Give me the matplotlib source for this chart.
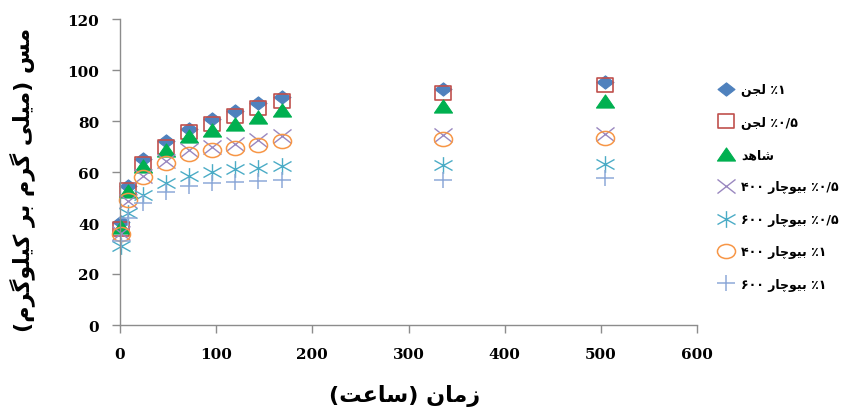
import matplotlib
matplotlib.use("Agg")
import matplotlib.pyplot as plt
from matplotlib.path import Path
from matplotlib.transforms import Affine2D

plt.rcParams['font.family'] = ['DejaVu Serif']
plt.rcParams['font.weight'] = 'bold'

# ---------------- data ----------------
hours = [1, 8, 24, 48, 72, 96, 120, 144, 168, 336, 504]
sludge_1 = [40.5, 54.5, 65, 72, 77, 80.8, 84, 87, 89.5, 92.5, 95.3]
sludge_05 = [37.5, 53, 63, 70, 75.5, 79, 82, 85, 88, 91, 94]
control = [38.5, 52.5, 62.5, 68.5, 74, 76.5, 79, 81.5, 84.5, 86, 88]
biochar400_05 = [36, 48.5, 58.5, 64.5, 68.5, 70, 71, 72.5, 74, 74.5, 75]
biochar600_05 = [31, 44, 51, 55.5, 58.5, 60, 61, 61.5, 62.5, 62.8, 63]
biochar400_1 = [35.5, 49, 58, 63.5, 67, 68.5, 69.5, 70.5, 72, 73, 73.5]
biochar600_1 = [33, 42, 48, 52, 54.5, 55.5, 56, 56.5, 57, 57, 57.5]

labels = ["٪۱ لجن", "٪۰/۵ لجن", "شاهد", "٪۰/۵ بیوچار ۴۰۰",
          "٪۰/۵ بیوچار ۶۰۰", "٪۱ بیوچار ۴۰۰", "٪۱ بیوچار ۶۰۰"]
xlabel = "زمان (ساعت)"
ylabel = "مس (میلی گرم بر کیلوگرم)"
xticks = [0, 100, 200, 300, 400, 500, 600]
yticks = [0, 20, 40, 60, 80, 100, 120]

# ------------- minimal Arabic/Persian shaping + bidi -------------
FORMS = {  # isolated, final, initial, medial
    'ا': ('\uFE8D', '\uFE8E', None, None),
    'ب': ('\uFE8F', '\uFE90', '\uFE91', '\uFE92'),
    'ت': ('\uFE95', '\uFE96', '\uFE97', '\uFE98'),
    'ج': ('\uFE9D', '\uFE9E', '\uFE9F', '\uFEA0'),
    'چ': ('\uFB7A', '\uFB7B', '\uFB7C', '\uFB7D'),
    'د': ('\uFEA9', '\uFEAA', None, None),
    'ر': ('\uFEAD', '\uFEAE', None, None),
    'ز': ('\uFEAF', '\uFEB0', None, None),
    'س': ('\uFEB1', '\uFEB2', '\uFEB3', '\uFEB4'),
    'ش': ('\uFEB5', '\uFEB6', '\uFEB7', '\uFEB8'),
    'ع': ('\uFEC9', '\uFECA', '\uFECB', '\uFECC'),
    'ک': ('\uFB8E', '\uFB8F', '\uFB90', '\uFB91'),
    'گ': ('\uFB92', '\uFB93', '\uFB94', '\uFB95'),
    'ل': ('\uFEDD', '\uFEDE', '\uFEDF', '\uFEE0'),
    'م': ('\uFEE1', '\uFEE2', '\uFEE3', '\uFEE4'),
    'ن': ('\uFEE5', '\uFEE6', '\uFEE7', '\uFEE8'),
    'ه': ('\uFEE9', '\uFEEA', '\uFEEB', '\uFEEC'),
    'و': ('\uFEED', '\uFEEE', None, None),
    'ی': ('\uFBFC', '\uFBFD', '\uFBFE', '\uFBFF'),
}
LTR = set("0123456789۰۱۲۳۴۵۶۷۸۹٪/.")
MIRROR = {'(': ')', ')': '('}


def shape(s):
    out = []
    for i, ch in enumerate(s):
        if ch not in FORMS:
            out.append(ch)
            continue
        prev = s[i - 1] if i > 0 else ''
        nxt = s[i + 1] if i + 1 < len(s) else ''
        jp = prev in FORMS and FORMS[prev][2] is not None
        jn = nxt in FORMS and FORMS[ch][2] is not None
        f = FORMS[ch]
        if jp and jn:
            out.append(f[3])
        elif jp:
            out.append(f[1])
        elif jn:
            out.append(f[2])
        else:
            out.append(f[0])
    return ''.join(out)


def rtl(s):
    s = shape(s)
    runs, cur, ctype = [], '', None
    for ch in s:
        t = 'L' if ch in LTR else 'R'
        if cur and t != ctype:
            runs.append((ctype, cur))
            cur = ''
        cur += ch
        ctype = t
    if cur:
        runs.append((ctype, cur))
    res = ''
    for t, txt in reversed(runs):
        if t == 'L':
            res += txt
        else:
            res += ''.join(MIRROR.get(c, c) for c in reversed(txt))
    return res


# ------------- stretched marker shapes -------------
def stretched(verts, codes, sx, sy=1.0):
    return Path(verts, codes).transformed(Affine2D().scale(sx, sy))


M, L, C = Path.MOVETO, Path.LINETO, Path.CLOSEPOLY
diamond = stretched([(0, 1), (1, 0), (0, -1), (-1, 0), (0, 1)], [M, L, L, L, C], 1.28)
square = stretched([(-1, -1), (1, -1), (1, 1), (-1, 1), (-1, -1)], [M, L, L, L, C], 1.15)
triangle = stretched([(0, 1), (1, -1), (-1, -1), (0, 1)], [M, L, L, C], 1.35, 0.98)
ellipse = Path.unit_circle().transformed(Affine2D().scale(1.28, 1.0))
xmark = stretched([(-1, -1), (1, 1), (-1, 1), (1, -1)], [M, L, M, L], 1.28)
astmark = stretched([(-1, -0.6), (1, 0.6), (-1, 0.6), (1, -0.6), (0, -1), (0, 1)],
                    [M, L, M, L, M, L], 1.08)
plusmark = stretched([(-1, 0), (1, 0), (0, -1), (0, 1)], [M, L, M, L], 1.2)

# ---------------- figure ----------------
fig = plt.figure(figsize=(8.53, 4.14), dpi=100)
ax = fig.add_axes([120 / 853, 1 - 326 / 414, (697 - 120) / 853, (326 - 20) / 414])

series = [
    (sludge_1, dict(marker=diamond, ms=12.2, mfc='#4F81BD', mec='#4F81BD', mew=0.8)),
    (sludge_05, dict(marker=square, ms=12.2, mfc='none', mec='#C0504D', mew=1.2)),
    (control, dict(marker=triangle, ms=13, mfc='#00B050', mec='#00B050', mew=0.8)),
    (biochar400_05, dict(marker=xmark, ms=13, mfc='none', mec='#9A88C0', mew=1.0)),
    (biochar600_05, dict(marker=astmark, ms=13, mfc='none', mec='#4BACC6', mew=1.0)),
    (biochar400_1, dict(marker=ellipse, ms=13, mfc='none', mec='#F79646', mew=1.1)),
    (biochar600_1, dict(marker=plusmark, ms=13, mfc='none', mec='#8EA9D8', mew=1.1)),
]

handles = []
for (vals, st), lab in zip(series, labels):
    h, = ax.plot(hours, vals, linestyle='none', label=rtl(lab), clip_on=False, **st)
    handles.append(h)

ax.set_xlim(0, 600)
ax.set_ylim(0, 120)
ax.set_xticks(xticks)
ax.set_yticks(yticks)
for sp in ['top', 'right']:
    ax.spines[sp].set_visible(False)
for sp in ['left', 'bottom']:
    ax.spines[sp].set_color('#8c8c8c')
    ax.spines[sp].set_linewidth(1)
ax.tick_params(axis='both', direction='out', length=6, width=1, color='#8c8c8c',
               labelsize=11)
ax.tick_params(axis='y', pad=9)
ax.tick_params(axis='x', pad=10)

fig.text(405 / 853, 1 - 396 / 414, rtl(xlabel), ha='center', va='center',
         family='DejaVu Sans', fontsize=16, fontweight='bold')
fig.text(22 / 853, 1 - 180 / 414, rtl(ylabel), ha='center', va='center',
         rotation=90, family='DejaVu Sans', fontsize=16, fontweight='bold')

leg = ax.legend(handles=handles, loc='center left',
                bbox_to_anchor=(716 / 853, 1 - 188 / 414),
                bbox_transform=fig.transFigure, frameon=False,
                prop=dict(family='DejaVu Sans', weight='bold', size=9),
                labelspacing=1.55, handlelength=1.6, handletextpad=0.4,
                borderpad=0, borderaxespad=0)

fig.savefig('out.png', dpi=100)
